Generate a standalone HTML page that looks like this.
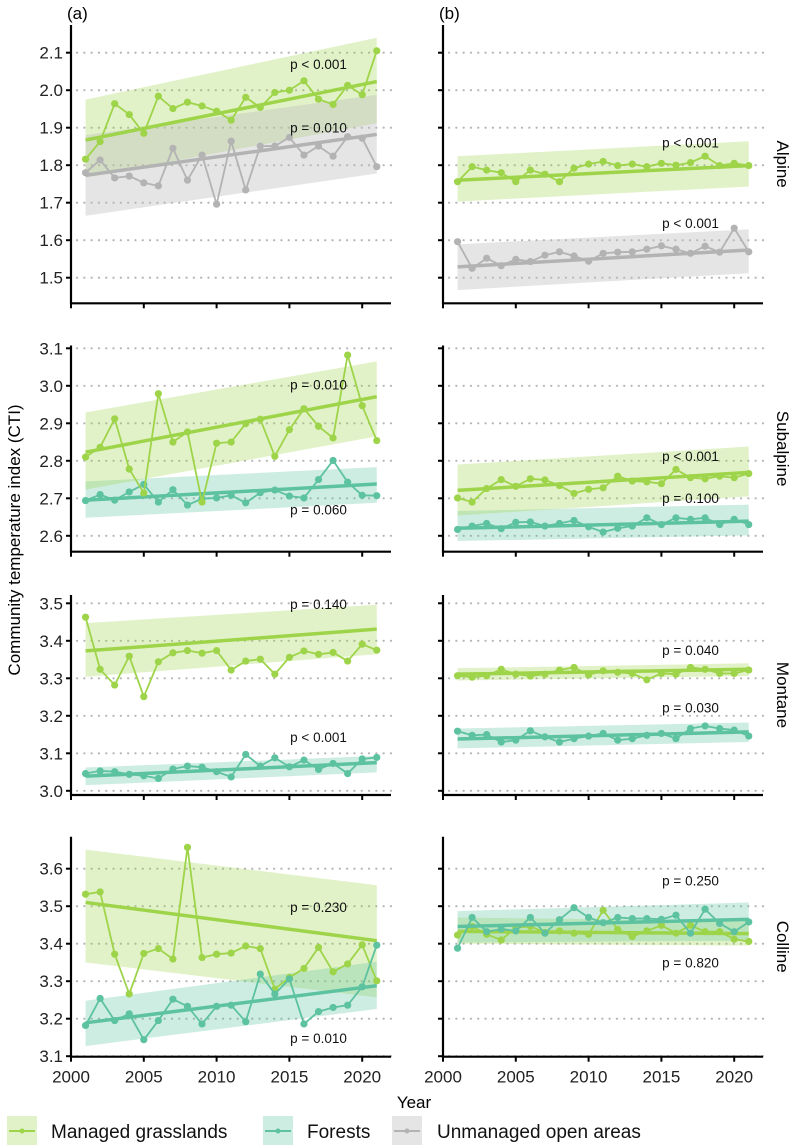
<!DOCTYPE html>
<html><head><meta charset="utf-8"><style>
body{margin:0;background:#fff;}
svg{display:block;font-family:"Liberation Sans",sans-serif;}
</style></head><body>
<svg id="chart" width="797" height="1146" viewBox="0 0 797 1146" xmlns="http://www.w3.org/2000/svg"></svg>
<script>
const years=[2001,2002,2003,2004,2005,2006,2007,2008,2009,2010,2011,2012,2013,2014,2015,2016,2017,2018,2019,2020,2021];
const xTicks=[2000,2005,2010,2015,2020];
// Alpine (a)
const aAlpGrass=[1.816,1.863,1.964,1.935,1.885,1.984,1.951,1.968,1.958,1.944,1.920,1.981,1.954,1.994,2.0,2.025,1.976,1.962,2.013,1.988,2.105];
const aAlpOpen=[1.78,1.814,1.766,1.771,1.753,1.745,1.845,1.760,1.827,1.696,1.864,1.734,1.851,1.851,1.874,1.827,1.851,1.824,1.876,1.872,1.796];
// Alpine (b)
const bAlpGrass=[1.756,1.796,1.787,1.780,1.756,1.787,1.776,1.756,1.792,1.803,1.810,1.799,1.803,1.796,1.805,1.800,1.807,1.824,1.799,1.805,1.799];
const bAlpOpen=[1.596,1.525,1.552,1.532,1.549,1.543,1.560,1.569,1.558,1.544,1.565,1.568,1.569,1.576,1.585,1.576,1.565,1.584,1.568,1.632,1.569];
// Subalpine
const aSubGrass=[2.810,2.836,2.912,2.778,2.714,2.979,2.850,2.877,2.690,2.847,2.850,2.899,2.911,2.812,2.883,2.939,2.892,2.861,3.082,2.947,2.854];
const aSubForest=[2.694,2.710,2.695,2.717,2.737,2.690,2.723,2.682,2.699,2.701,2.708,2.688,2.715,2.722,2.706,2.701,2.750,2.801,2.743,2.708,2.707];
const bSubGrass=[2.701,2.690,2.726,2.750,2.732,2.752,2.749,2.734,2.713,2.724,2.728,2.759,2.746,2.744,2.739,2.777,2.755,2.752,2.759,2.755,2.766];
const bSubForest=[2.617,2.626,2.633,2.619,2.636,2.637,2.626,2.633,2.641,2.624,2.610,2.620,2.626,2.648,2.630,2.648,2.644,2.648,2.630,2.644,2.630];
// Montane
const aMonGrass=[3.463,3.324,3.282,3.359,3.251,3.344,3.368,3.374,3.367,3.374,3.322,3.346,3.351,3.311,3.356,3.373,3.364,3.369,3.346,3.391,3.375];
const aMonForest=[3.046,3.053,3.051,3.044,3.040,3.033,3.058,3.066,3.063,3.051,3.037,3.097,3.066,3.088,3.064,3.082,3.057,3.073,3.046,3.085,3.089];
const bMonGrass=[3.307,3.303,3.307,3.324,3.311,3.306,3.311,3.322,3.329,3.309,3.320,3.316,3.313,3.296,3.313,3.311,3.329,3.324,3.313,3.313,3.322];
const bMonForest=[3.159,3.148,3.150,3.130,3.135,3.160,3.144,3.130,3.139,3.146,3.153,3.135,3.139,3.148,3.153,3.139,3.166,3.173,3.166,3.162,3.146];
// Colline
const aColGrass=[3.532,3.538,3.372,3.266,3.374,3.387,3.359,3.657,3.363,3.372,3.375,3.394,3.387,3.279,3.310,3.334,3.390,3.325,3.346,3.397,3.301];
const aColForest=[3.182,3.254,3.195,3.213,3.144,3.195,3.252,3.233,3.186,3.233,3.236,3.192,3.319,3.266,3.306,3.186,3.219,3.230,3.236,3.285,3.396];
const bColGrass=[3.423,3.446,3.425,3.410,3.443,3.446,3.430,3.434,3.428,3.425,3.489,3.438,3.419,3.434,3.449,3.428,3.449,3.432,3.432,3.412,3.406];
const bColForest=[3.388,3.470,3.432,3.439,3.434,3.470,3.428,3.464,3.496,3.470,3.456,3.470,3.467,3.467,3.465,3.476,3.428,3.492,3.454,3.432,3.458];
// trend [start2001, end2021], band [low2001, high2001, low2021, high2021]
const trends={
 aAlpGrass:[1.867,2.023],aAlpOpen:[1.773,1.882],bAlpGrass:[1.760,1.799],bAlpOpen:[1.529,1.574],
 aSubGrass:[2.823,2.971],aSubForest:[2.695,2.738],bSubGrass:[2.721,2.769],bSubForest:[2.620,2.639],
 aMonGrass:[3.373,3.431],aMonForest:[3.039,3.075],bMonGrass:[3.311,3.324],bMonForest:[3.138,3.157],
 aColGrass:[3.510,3.408],aColForest:[3.189,3.288],bColGrass:[3.433,3.427],bColForest:[3.446,3.465]};
const bands={
 aAlpGrass:[1.767,1.975,1.912,2.14],aAlpOpen:[1.665,1.88,1.778,1.988],bAlpGrass:[1.703,1.824,1.743,1.864],bAlpOpen:[1.467,1.589,1.512,1.629],
 aSubGrass:[2.723,2.929,2.865,3.065],aSubForest:[2.648,2.745,2.688,2.783],bSubGrass:[2.654,2.790,2.705,2.838],bSubForest:[2.586,2.666,2.601,2.683],
 aMonGrass:[3.304,3.447,3.364,3.496],aMonForest:[3.015,3.062,3.049,3.093],bMonGrass:[3.294,3.327,3.306,3.340],bMonForest:[3.113,3.166,3.130,3.182],
 aColGrass:[3.350,3.651,3.257,3.556],aColForest:[3.127,3.248,3.226,3.352],bColGrass:[3.40,3.47,3.395,3.46],bColForest:[3.403,3.487,3.408,3.510]};
const pLabels={aAlpGrass:"p < 0.001",aAlpOpen:"p = 0.010",bAlpGrass:"p < 0.001",bAlpOpen:"p < 0.001",
 aSubGrass:"p = 0.010",aSubForest:"p = 0.060",bSubGrass:"p < 0.001",bSubForest:"p = 0.100",
 aMonGrass:"p = 0.140",aMonForest:"p < 0.001",bMonGrass:"p = 0.040",bMonForest:"p = 0.030",
 aColGrass:"p = 0.230",aColForest:"p = 0.010",bColGrass:"p = 0.250",bColForest:"p = 0.820"};
const pPos={aAlpGrass:2.069,aAlpOpen:1.899,bAlpGrass:1.859,bAlpOpen:1.645,
 aSubGrass:3.002,aSubForest:2.669,bSubGrass:2.811,bSubForest:2.700,
 aMonGrass:3.497,aMonForest:3.142,bMonGrass:3.374,bMonForest:3.221,
 aColGrass:3.496,aColForest:3.147,bColGrass:3.567,bColForest:3.348};
const data={aAlpGrass,aAlpOpen,bAlpGrass,bAlpOpen,aSubGrass,aSubForest,bSubGrass,bSubForest,aMonGrass,aMonForest,bMonGrass,bMonForest,aColGrass,aColForest,bColGrass,bColForest};

const COL={grass:"#9ed449",forest:"#5cc2a0",open:"#b3b3b3"};
const FILL={grass:"rgba(158,212,73,0.3)",forest:"rgba(92,194,160,0.3)",open:"rgba(190,190,190,0.4)"};
const rows=[
 {name:"Alpine",top:25,bottom:303.3,ref:2.1,refY:52.7,ticks:[1.5,1.6,1.7,1.8,1.9,2.0,2.1],series:[["AlpGrass","grass"],["AlpOpen","open"]]},
 {name:"Subalpine",top:345.5,bottom:551.7,ref:3.1,refY:348.3,ticks:[2.6,2.7,2.8,2.9,3.0,3.1],series:[["SubForest","forest"],["SubGrass","grass"]]},
 {name:"Montane",top:595,bottom:795,ref:3.5,refY:603.3,ticks:[3.0,3.1,3.2,3.3,3.4,3.5],series:[["MonForest","forest"],["MonGrass","grass"]]},
 {name:"Colline",top:836.7,bottom:1056.7,ref:3.6,refY:868.7,ticks:[3.1,3.2,3.3,3.4,3.5,3.6],series:[["ColGrass","grass"],["ColForest","forest"]]}];
const cols=[{p:"a",x0:71,xr:391,label:"(a)"},{p:"b",x0:443,xr:763,label:"(b)"}];
const svg=document.getElementById('chart');
const NS="http://www.w3.org/2000/svg";
function mk(tag,attrs,parent){const e=document.createElementNS(NS,tag);for(const k in attrs)e.setAttribute(k,attrs[k]);(parent||svg).appendChild(e);return e;}
function fmt(v){return v.toFixed(1);}

cols.forEach((c,ci)=>{
 const xs=yr=>c.x0+(yr-2000)*14.56;
 const t=mk('text',{x:c.x0-4,y:19,'font-size':17});
 t.textContent=c.label;
 
 
 rows.forEach((r,ri)=>{
  const ys=v=>r.refY-(v-r.ref)*375;
  const g=mk('g',{});
  
  
  r.ticks.forEach(tv=>{
   const gl=mk('line',{x1:c.x0+6,x2:c.xr,y1:ys(tv),y2:ys(tv),stroke:"#b5b5b5",'stroke-width':2.2,'stroke-dasharray':"0.1 7.2",'stroke-linecap':"round"},g);
   
   
   mk('line',{x1:c.x0-5,x2:c.x0,y1:ys(tv),y2:ys(tv),stroke:"#000",'stroke-width':2},g);
   if(ci===0){const tl=mk('text',{x:c.x0-8,y:ys(tv)+6,'font-size':17,'text-anchor':'end',fill:'#222'},g);tl.textContent=fmt(tv);
    
    }
  });
  r.series.forEach(([k,type])=>{
   const key=c.p+k,b=bands[key];
   const band=mk('polygon',{points:`${xs(2001)},${ys(b[0])} ${xs(2021)},${ys(b[2])} ${xs(2021)},${ys(b[3])} ${xs(2001)},${ys(b[1])}`,fill:FILL[type]},g);
   
   
  });
  r.series.forEach(([k,type])=>{
   const key=c.p+k,vals=data[key],tr=trends[key];
   const pl=mk('polyline',{points:vals.map((v,i)=>xs(years[i])+','+ys(v)).join(' '),fill:'none',stroke:COL[type],'stroke-width':1.8},g);
   
   
   vals.forEach((v,i)=>{const d=mk('circle',{cx:xs(years[i]),cy:ys(v),r:3.6,fill:COL[type]},g);
    
    });
   const tl=mk('line',{x1:xs(2001),y1:ys(tr[0]),x2:xs(2021),y2:ys(tr[1]),stroke:COL[type],'stroke-width':3.5},g);
   
   
  });
  r.series.forEach(([k,type])=>{
   const key=c.p+k;
   const pt=mk('text',{x:xs(2017),y:ys(pPos[key])+4.5,'font-size':13.5,'text-anchor':'middle',fill:'#111'},g);
   pt.textContent=pLabels[key];
   
   
  });
  mk('line',{x1:c.x0,x2:c.x0,y1:r.top,y2:r.bottom+1,stroke:"#000",'stroke-width':2.2},g);
  mk('line',{x1:c.x0-1,x2:c.xr,y1:r.bottom,y2:r.bottom,stroke:"#000",'stroke-width':2.2},g);
  xTicks.forEach(yr=>{
   mk('line',{x1:xs(yr),x2:xs(yr),y1:r.bottom,y2:r.bottom+5,stroke:"#000",'stroke-width':2},g);
   if(ri===3){const xl=mk('text',{x:xs(yr),y:r.bottom+26,'font-size':17,'text-anchor':'middle',fill:'#222'},g);xl.textContent=yr;
    
    }
  });
  if(ci===1){
   const cy=(r.top+r.bottom)/2;
   const st=mk('text',{x:777,y:cy,'font-size':17,'text-anchor':'middle',transform:`rotate(90 777 ${cy})`},g);
   st.textContent=r.name;
   
   
  }
 });
});
const yt=mk('text',{x:20,y:540,'font-size':17,'text-anchor':'middle',transform:'rotate(-90 20 540)'});
yt.textContent="Community temperature index (CTI)";


const xt=mk('text',{x:414,y:1108,'font-size':17,'text-anchor':'middle'});
xt.textContent="Year";


const legend=[["Managed grasslands","grass",7,51],["Forests","forest",263,307],["Unmanaged open areas","open",392,437]];
legend.forEach(([lab,type,kx,tx])=>{
 const lg=mk('g',{});
 
 
 mk('rect',{x:kx,y:1116,width:30,height:29,fill:FILL[type]},lg);
 mk('line',{x1:kx+2,x2:kx+28,y1:1131,y2:1131,stroke:COL[type],'stroke-width':2},lg);
 mk('circle',{cx:kx+15,cy:1131,r:2.5,fill:COL[type]},lg);
 const tt=mk('text',{x:tx,y:1138,'font-size':19,fill:'#111'},lg);
 tt.textContent=lab;
});
</script>
</body></html>
